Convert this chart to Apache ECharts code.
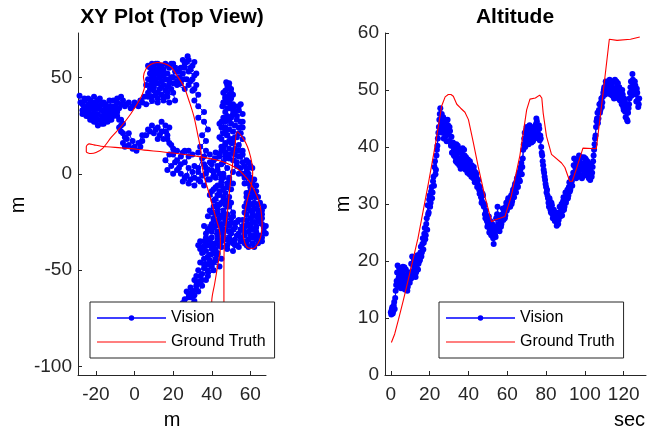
<!DOCTYPE html>
<html><head><meta charset="utf-8">
<script src="https://cdn.jsdelivr.net/npm/echarts@6/dist/echarts.min.js"></script>
<style>html,body{margin:0;padding:0;background:#fff}#c{width:652px;height:432px}</style>
</head><body><div id="c"></div>
<script>
// ---- tick labels ----
const xyTicksX = [-20, 0, 20, 40, 60];
const xyTicksY = [-100, -50, 0, 50];
const altTicksX = [0, 20, 40, 60, 80, 100, 120];
const altTicksY = [0, 10, 20, 30, 40, 50, 60];
const seriesNames = ['Vision', 'Ground Truth'];
const GAP = ['-', '-'];

// ---- XY plot (top view), metres: vision track, first pass ----
const visionXY1 = [
[23,-76],[26,-73],[24,-70],[27,-71],[25,-67],[28,-68],[26,-65],[29,-64],[31,-66],[30,-62],[27,-61],[32,-60],[29,-59],[33,-57],[31,-55],[34,-56],[32,-53],[35,-52],[33,-50],[36,-49],[38,-51],[37,-47],[34,-46],[39,-45],[36,-44],[41,-46],[44,-48],[42,-44],[39,-42],[37,-40],[40,-39],[43,-41],[41,-38],[38,-37],[35,-38],[33,-37],
[36,-35],[39,-34],[42,-36],[45,-35],[48,-37],[51,-36],[54,-38],[52,-34],[49,-33],[46,-31],[43,-32],[40,-30],[37,-31],[39,-28],[42,-27],[45,-28],[48,-26],[51,-29],[54,-31],[56,-27],[53,-25],[50,-23],[47,-24],[44,-23],[41,-24],[38,-22],
[40,-20],[43,-18],[46,-19],[49,-17],[51,-20],[48,-14],[45,-15],[42,-13],[39,-11],[41,-8],[44,-9],[47,-10],[50,-8],[48,-5],[45,-4],[42,-2],[39,-3],[37,0],[40,2],
[36,5],[33,3],[35,8],[37,12],[34,14],[37,17],[35,20],[38,23],[36,27],[33,29],[36,32],[33,35],[31,38],[33,41],[30,43],[32,46],[29,48],[31,51],[28,53],[30,56],[27,58],[27.5,61],[26,57],[29,54],[25,52],[27,49],[24,47],[26,44],[22,46],[23,50],[21,53],[24,55],[20,57],
[18,55],[16,57],[14,56],[12,57],[10,56],[8,55],[11,54],[14,53],[17,52],[19,50],[16,49],[13,50],[10,51],[8,52],[9,48],[12,47],[15,46],[18,47],[19,44],[16,43],[13,44],[10,45],[8,44],[11,41],[14,41],[17,40],[20,42],[21,38],[18,37],[15,38],[12,39],[9,40],[7,42],[5,40],
[4,37],[2,35],[0,37],[-2,34],[-4,36],[-6,38],[-7,40],[-9,37],[-8,34],[-10,33],[-12,35],[-14,33],[-13,30],[-15,28],[-17,30],[-16,33],[-18,35],[-20,34],[-19,31],[-21,29],[-23,31],[-22,34],[-24,36],[-26,35],[-25,32],[-27,33],[-28,37],[-28.5,40.5],[-26,39],[-23,38],[-21,40],[-20,37],[-18,39],[-15,36],[-13,38],[-11,31],[-14,27],[-17,28],[-20,27],[-22,28],[-24,30],[-19,25],[-16,26],[-12,28],[-9,30],[-7,28],
[-7,25],[-7,22],[-5,19],[-6,16],[-5,14],[-3,15],[-1,13],[1,12],[3,14],[4,17],[6,20],[8,22],[10,21],[12,24],[14,27],[16,25],[14,22],[17,20],[15,18],[18,16],[20,13],
[18,10],[16,7],[19,4],[17,2],[20,0],[23,3],[21,6],[24,9],[26,12],[28,9],[26,6],[28,3],[27,-1],[25,-4],[29,-3],[30,1],[31,4],[33,1],[31,-2],[34,-4],[36,-6],[38,-3],[41,1],[43,4],[41,7],[44,9],[46,6],[48,3],[46,0],[49,-2],[51,1],[53,4],[51,7],[54,9],[56,6],[58,3],[56,0],[59,-2],
[57,-5],[60,-7],[58,-10],[61,-12],[63,-9],[62,-15],[59,-14],[57,-17],[60,-19],[63,-18],[65,-15],[67,-17],[66,-21],[63,-22],[60,-23],[58,-21],[56,-24],[59,-26],[62,-25],[65,-25],[67,-28],[68,-31],[66,-33],[63,-30],[60,-29],[57,-30],[55,-33],[58,-35],[61,-33],[64,-36],[62,-38],[59,-38],[57,-36],[60,-32],[63,-27],[65,-23],[61,-20],[59,-16],[64,-12],[62,-6],[60,-2],[58,1],[61,3],[59,6],[57,4],
[55,9],[56,12],[54,15],[56,18],[55,21],[53,19],[51,16],[49,13],[47,15],[45,18],[48,20],[51,22],[54,24],[56,27],[53,28],[50,26],[47,24],[45,27],[48,29],[51,31],[54,33],[55,36],[52,35],[49,34],[47,32],[45.5,35],[48,37],[50,39],[47,40],[46,42],[48,44],[47.5,47.5],[49,45],[50,42],[49,40],[48,38],[50,36],[51,33],[49,28],[47,22],[49,17],[46,13],[44,10],[47,8],[45,5],
[43,2],[45,-2],[43,-6],[46,-8],[44,-11],[41,-14],[43,-16],[46,-14],[48,-17],[46,-21],[43,-20],[41,-23],[44,-26],[47,-22],[50,-25],[52,-28],[49,-30],[46,-29],[43,-30],[40,-33],[37,-33],[34,-35],[36,-38],[39,-37],[42,-39],[45,-38],[48,-39],[51,-40],[53,-37],[50,-35],[47,-34],[44,-37],[41,-41],[39,-47],[41,-50],[38,-53],[35,-55],[32,-58],[30,-61],[28,-64],[26,-68],[24,-72]
];
// second pass, lower and right part
const visionXY2 = [
[27,-70],[29,-68],[31,-63],[28,-62],[33,-61],[35,-58],[32,-56],[37,-55],[34,-53],[38,-50],[40,-48],[36,-47],[42,-45],[45,-44],[43,-42],[38,-43],[35,-41],[34,-39],
[37,-36],[40,-36],[43,-34],[46,-33],[49,-35],[52,-37],[55,-35],[53,-32],[50,-31],[47,-29],[44,-30],[41,-28],[38,-29],[36,-27],[40,-26],[43,-25],[46,-26],[49,-27],[52,-26],[55,-29],[54,-24],[51,-22],[48,-21],[45,-22],[42,-21],[39,-19],
[41,-17],[44,-16],[47,-16],[50,-15],[49,-12],[46,-12],[43,-11],[40,-9],[42,-7],[45,-6],[48,-7],[51,-5],[49,-3],[46,-2],[44,0],[41,-1],[38,2],[40,5],[42,8],[39,10],
[36,9],[33,11],[30,10],[28,12],[25,11],[22,12],[20,10],[22,7],[24,5],[22,2],[24,0],[26,-2],[28,-5],[31,-6],[33,-3],[35,-1],[37,3],[39,6],[42,11],[45,12],[47,10],[49,8],[52,10],[53,6],[55,3],[54,0],[57,-2],
[59,-5],[62,-3],[61,-9],[63,-12],[60,-12],[58,-15],[61,-16],[64,-16],[66,-19],[64,-21],[61,-22],[58,-24],[57,-27],[60,-27],[63,-28],[66,-26],[68,-27],[67,-30],[65,-32],[62,-32],[59,-34],[56,-35],[58,-37],[61,-36],[63,-34],[66,-35],[64,-32],[62,-29],[59,-30],[57,-32],[56,-29],[58,-27],[61,-25],[64,-24],[66,-23],[64,-19],[62,-18],[59,-18],[57,-20],[58,-12],[60,-9],[62,-11],[63,-6],[61,-4],[59,0],[60,4],[58,7],
[56,10],[54,12],[52,13],[50,16],[52,19],[54,21],[56,24],[55,27],[52,25],[49,23],[46,21],[44,19],[45,24],[47,27],[50,29],[53,30],[56,31],[54,35],[51,36],[48,34],[46,37],[47,39],[49,41],[47,43],[48,46],[49,47],[50,44],[51,41],[49,38],[50,35],[52,32],[48,30],[46,29],[44,26],[46,24],[48,20],[50,18],[47,16],[45,14],[47,11],[49,10],[51,11]
];
// third pass, upper and left part
const visionXY3 = [
[31,44],[28,46],[30,49],[32,52],[29,55],[31,58],[28,59],[25,59],[26,55],[23,53],[25,49],[22,48],[20,50],[21,55],[19,57],[17,56],[15,54],[13,55],[11,57],[9,57],[7,56],[9,53],[12,52],[15,51],[18,49],[20,47],[17,45],[14,48],[11,49],[9,50],[7,49],[6,46],[8,46],[11,47],[14,45],[17,42],[15,40],[12,42],[10,43],[7,40],[9,38],[12,37],[6,36],[3,38],[1,36],[-1,35],[-3,37],[-5,35],[-7,36],[-9,39],[-11,38],[-10,35],[-12,33],[-11,30],[-13,28],[-15,31],[-17,33],[-19,34],[-21,32],[-20,30],[-22,30],[-24,33],[-26,33],[-27,31],[-25,30],[-23,28],[-21,27],[-19,28],[-17,26],[-15,29],[-13,32],[-15,34],[-17,36],[-20,36],[-22,36],[-24,34],[-27,36],[-26,38],[-24,39],[-22,37],[-19,38],[-16,37],[-13,35],
[-9,32],[-8,28],[-6,26],[-8,24],[-6,21],[-4,18],[-3,21],[-1,17],[0,14],[2,16],[4,20],[7,23],[9,25],[11,23],[13,20],[12,18],[16,22],[18,24],[17,18],[19,15],[21,12]
];
const truthXY = [
[40,-95],[40,-66],[41.5,-57],[43,-48],[44.5,-38],[44.3,-31],[42.5,-24],[40.5,-17],[38,-8],[36,-1.5],[34.8,6],[34.3,12.3],[32.8,20],[30.8,29.5],[28.5,37],[25.6,45.1],[22,51],[18.8,55.4],[15,57.3],[11.9,57.7],[8.5,56.8],[6,54.5],[4.6,50.3],[5.2,46.5],[5,44],[3,39],[-2,31],[-7.1,24.4],[-12,19],[-16.5,13.2],[-20,11],[-22.6,10.5],[-25,11.5],[-25,14],[-23.5,15.5],[-21,15],[-17.4,14.3],[-5,13.3],[5,12.3],[20,10.8],[34.3,8.8],[42,7.3],[48.1,5.4],[53,2.8],[56.6,-0.5],[59.5,-4],[62,-8.4],[64,-13],[65.5,-19],[66.1,-26],[65.5,-32],[64,-36],[61.5,-38.7],[59,-38.5],[57.2,-36],[56.3,-31],[56.6,-25],[57.5,-18],[58.8,-12],[60.5,-6],[61.2,0],[61,4],[60.1,8.8],[58.5,14],[56.5,18],[53.2,21.8],[52,14],[50.6,3.5],[49.6,-5],[48.1,-20],[47,-30],[46.4,-40],[46.3,-55],[46.3,-66],[46.5,-95]
];

// ---- Altitude, [sec, m] ----
const visionAlt1 = [
[0,11.0],[0.5,11.5],[1,10.8],[1.5,12.2],[2,11.6],[2.5,14.8],[3,16.5],[3.5,19.2],[4,17.0],[4.5,15.5],[5,18.3],[5.5,16.2],[6,17.8],[6.5,15.8],[7,18.9],[7.5,17.2],[8,16.0],[8.5,14.8],[9,16.5],[9.5,18.0],
[10,16.8],[10.5,19.5],[11,20.8],[11.5,18.2],[12,17.5],[12.5,19.8],[13,18.0],[13.5,20.5],[14,18.5],[14.5,21.0],[15,20.2],[15.5,22.5],[16,21.5],[16.5,24.0],[17,23.2],[17.5,25.8],[18,24.5],[18.5,27.5],[19,29.8],[19.5,28.5],
[20,31.5],[20.5,30.2],[21,33.0],[21.5,32.0],[22,34.8],[22.5,36.5],[23,35.2],[23.5,38.5],[24,40.2],[24.5,42.5],[25,44.8],[25.5,46.8],[26,44.0],[26.5,42.5],[27,45.2],[27.5,43.0],[28,41.8],[28.5,44.5],[29,42.2],[29.5,43.8],
[30,41.0],[30.5,42.8],[31,40.2],[31.5,39.0],[32,40.8],[32.5,38.5],[33,39.8],[33.5,37.5],[34,38.8],[34.5,40.2],[35,38.0],[35.5,39.5],[36,36.2],[36.5,38.0],[37,39.8],[37.5,37.2],[38,38.5],[38.5,36.0],[39,37.5],[39.5,35.5],
[40,37.0],[40.5,35.2],[41,36.5],[41.5,34.8],[42,36.2],[42.5,34.5],[43,35.8],[43.5,34.0],[44,35.2],[44.5,33.0],[45,34.2],[45.5,32.5],[46,33.0],[46.5,31.2],[47,30.5],[47.5,31.5],[48,29.5],[48.5,28.2],[49,28.8],[49.5,27.0],
[50,26.5],[50.5,27.8],[51,25.5],[51.5,26.2],[52,24.8],[52.5,25.5],[53,23.0],[53.5,25.0],[54,24.2],[54.5,26.0],[55,29.5],[55.5,26.5],[56,25.2],[56.5,27.5],[57,26.5],[57.5,28.2],[58,27.2],[58.5,29.0],[59,28.0],[59.5,30.2],
[60,29.2],[60.5,31.0],[61,30.0],[61.5,29.5],[62,31.5],[62.5,30.5],[63,32.5],[63.5,31.2],[64,33.5],[64.5,32.0],[65,34.5],[65.5,33.0],[66,35.5],[66.5,34.0],[67,36.5],[67.5,35.2],[68,38.0],[68.5,40.5],[69,42.5],[69.5,41.0],
[70,43.5],[70.5,42.0],[71,40.5],[71.5,43.8],[72,42.2],[72.5,40.8],[73,43.0],[73.5,41.5],[74,43.5],[74.5,42.0],[75,45.0],[75.5,43.5],[76,41.8],[76.5,43.2],[77,42.0],[77.5,40.0],[78,38.5],[78.5,36.8],[79,35.5],[79.5,34.2],
[80,33.0],[80.5,32.5],[81,31.0],[81.5,29.5],[82,30.5],[82.5,28.5],[83,29.8],[83.5,27.5],[84,29.0],[84.5,27.0],[85,28.5],[85.5,26.2],[86,28.0],[86.5,27.2],[87,29.5],[87.5,28.0],[88,30.0],[88.5,28.8],[89,31.2],[89.5,29.5],
[90,32.0],[90.5,30.8],[91,32.5],[91.5,31.5],[92,33.8],[92.5,32.5],[93,34.5],[93.5,33.2],[94,35.5],[94.5,38.0],[95,36.5],[95.5,34.5],[96,37.5],[96.5,35.5],[97,38.5],[97.5,36.0],[98,37.2],[98.5,34.5],[99,36.5],[99.5,38.2],
[100,36.0],[100.5,37.8],[101,35.0],[101.5,36.8],[102,34.5],[102.5,37.0],[103,35.5],[103.5,34.8],[104,36.5],[104.5,38.5],[105,40.5],[105.5,42.0],[106,44.5],[106.5,46.0],[107,45.0],[107.5,47.5],[108,46.5],[108.5,48.5],[109,47.8],[109.5,49.5],
[110,50.5],[110.5,49.2],[111,51.0],[111.5,50.0],[112,51.5],[112.5,49.8],[113,50.8],[113.5,49.5],[114,51.5],[114.5,50.2],[115,48.5],[115.5,51.8],[116,50.0],[116.5,49.0],[117,51.2],[117.5,49.5],[118,48.2],[118.5,50.0],[119,47.5],[119.5,49.2],
[120,46.5],[120.5,48.0],[121,45.2],[121.5,47.5],[122,44.5],[122.5,46.8],[123,48.5],[123.5,50.5],[124,49.0],[124.5,52.8],[125,51.2],[125.5,49.5],[126,50.8],[126.5,48.0],[127,49.5],[127.5,47.0],[128,48.5]
];
const visionAlt2 = [
[0.25,10.6],[0.75,11.9],[1.25,11.2],[1.75,12.8],[2.25,13.5],[2.75,15.8],[3.25,18.0],[3.75,16.2],[4.25,18.8],[4.75,16.8],[5.25,15.2],[5.75,17.5],[6.25,19.0],[6.75,16.5],[7.25,15.0],[7.75,18.5],[8.25,17.5],[8.75,15.5],[9.25,17.8],[9.75,16.2],
[10.25,18.0],[10.75,17.0],[11.25,19.5],[11.75,20.5],[12.25,18.8],[12.75,17.2],[13.25,19.2],[13.75,21.0],[14.25,19.5],[14.75,20.0],[15.25,21.5],[15.75,20.8],[16.25,23.0],[16.75,22.0],[17.25,24.8],[17.75,23.8],[18.25,26.5],[18.75,25.5],[19.25,28.2],[19.75,30.8],
[20.25,29.5],[20.75,32.2],[21.25,31.0],[21.75,34.0],[22.25,33.2],[22.75,37.5],[23.25,36.0],[23.75,39.5],[24.25,41.5],[24.75,43.5],[25.25,45.8],[25.75,43.2],[26.25,45.8],[26.75,44.0],[27.25,41.5],[27.75,44.8],[28.25,43.2],[28.75,41.0],[29.25,44.8],[29.75,42.5],
[30.25,43.5],[30.75,40.8],[31.25,41.8],[31.75,40.5],[32.25,39.2],[32.75,40.5],[33.25,38.2],[33.75,40.5],[34.25,37.2],[34.75,39.0],[35.25,36.8],[35.75,37.5],[36.25,39.2],[36.75,36.8],[37.25,38.5],[37.75,39.5],[38.25,36.8],[38.75,38.2],[39.25,36.5],[39.75,37.8],
[40.25,36.0],[40.75,37.5],[41.25,35.5],[41.75,36.8],[42.25,35.0],[42.75,36.5],[43.25,33.8],[43.75,35.5],[44.25,34.5],[44.75,33.5],[45.25,33.2],[45.75,31.8],[46.25,32.2],[46.75,30.2],[47.25,31.8],[47.75,29.8],[48.25,30.0],[48.75,27.5],[49.25,28.0],[49.75,26.0],
[50.25,27.2],[50.75,25.0],[51.25,27.0],[51.75,24.5],[52.25,26.5],[52.75,24.0],[53.25,26.0],[53.75,24.5],[54.25,27.5],[54.75,28.2],[55.25,27.5],[55.75,25.5],[56.25,28.0],[56.75,26.0],[57.25,27.5],[57.75,29.2],[58.25,28.5],[58.75,27.5],[59.25,29.5],[59.75,28.8],
[60.25,30.5],[60.75,29.5],[61.25,31.0],[61.75,30.8],[62.25,30.0],[62.75,32.0],[63.25,31.8],[63.75,33.0],[64.25,32.5],[64.75,34.0],[65.25,33.2],[65.75,35.0],[66.25,34.2],[66.75,36.0],[67.25,37.2],[67.75,36.5],[68.25,39.5],[68.75,41.5],[69.25,40.0],[69.75,43.0],
[70.25,41.5],[70.75,43.2],[71.25,42.0],[71.75,41.0],[72.25,43.5],[72.75,42.5],[73.25,41.0],[73.75,42.8],[74.25,41.5],[74.75,44.0],[75.25,44.5],[75.75,42.5],[76.25,43.8],[76.75,41.2],[77.25,41.5],[77.75,39.0],[78.25,37.5],[78.75,36.0],[79.25,34.8],[79.75,33.5],
[80.25,32.0],[80.75,31.5],[81.25,30.2],[81.75,31.0],[82.25,29.0],[82.75,30.2],[83.25,28.2],[83.75,28.8],[84.25,27.8],[84.75,28.0],[85.25,27.0],[85.75,27.5],[86.25,26.5],[86.75,28.5],[87.25,27.8],[87.75,29.2],[88.25,28.0],[88.75,30.5],[89.25,29.0],[89.75,31.0],
[90.25,30.2],[90.75,31.8],[91.25,31.0],[91.75,33.0],[92.25,32.2],[92.75,33.5],[93.25,34.0],[93.75,34.8],[94.25,36.8],[94.75,35.2],[95.25,37.8],[95.75,36.0],[96.25,34.8],[96.75,37.0],[97.25,37.8],[97.75,35.0],[98.25,38.2],[98.75,36.2],[99.25,35.0],[99.75,37.0],
[100.25,38.0],[100.75,35.5],[101.25,37.5],[101.75,35.8],[102.25,36.5],[102.75,34.2],[103.25,36.8],[103.75,35.5],[104.25,37.5],[104.75,39.5],[105.25,41.5],[105.75,43.5],[106.25,45.0],[106.75,44.2],[107.25,46.5],[107.75,46.0],[108.25,47.8],[108.75,47.0],[109.25,48.8],[109.75,50.0],
[110.25,49.8],[110.75,51.5],[111.25,49.5],[111.75,51.2],[112.25,50.5],[112.75,51.8],[113.25,49.2],[113.75,51.0],[114.25,49.0],[114.75,51.5],[115.25,50.0],[115.75,49.2],[116.25,51.5],[116.75,50.5],[117.25,48.5],[117.75,50.5],[118.25,49.5],[118.75,48.0],[119.25,50.0],[119.75,47.0],
[120.25,48.5],[120.75,46.2],[121.25,46.5],[121.75,44.8],[122.25,46.0],[122.75,47.5],[123.25,49.5],[123.75,51.5],[124.25,50.2],[124.75,51.8],[125.25,50.0],[125.75,51.5],[126.25,49.2],[126.75,50.2],[127.25,48.2],[127.75,47.5]
];
const truthAlt = [
[0.3,5.7],[2,7.2],[4,9.8],[6.5,13.2],[10,18.2],[14,24],[19.4,33.7],[23,40.5],[26.2,47.2],[28,48.8],[29.6,49.2],[31,49.2],[32.2,48.9],[34,47.5],[36,46.8],[38.2,46.1],[40,44.8],[42.5,40.8],[45,36.6],[48.5,31.3],[51.9,26.9],[53.5,27.2],[56.2,27.5],[58.8,27.8],[62,31.3],[66.5,38.5],[70,46.5],[71.7,48.4],[74.5,48.6],[76.7,49.1],[77.8,48.6],[78.5,46],[80.2,41.9],[82.8,38.7],[88,37.2],[89.7,36.4],[92.2,34],[93.5,34],[95.5,36],[99,39.8],[105.9,39.7],[109.4,49.5],[112.6,58.9],[116.6,58.7],[123.5,58.9],[128.3,59.3]
];

const FONT = '"Liberation Sans", Arial, sans-serif';
const AX = '#262626';
const BLUE = '#0000ff';
const RED = '#ff0000';
const VISION_ICON = 'path://M0,3H100V5H0Z M46,4A4,4 0 1,1 54,4A4,4 0 1,1 46,4Z';
const TRUTH_ICON = 'path://M0,0H100V1.5H0Z';

function axis(idx, min, max, ticks, isX) {
  return {
    type: 'value', gridIndex: idx, min: min, max: max,
    axisLine: { show: true, onZero: false, lineStyle: { color: AX, width: 1 } },
    axisTick: { show: true, inside: true, length: 4, customValues: ticks, lineStyle: { color: AX, width: 1 } },
    axisLabel: { show: true, customValues: ticks, color: AX, fontSize: 19, fontFamily: FONT, margin: isX ? 10 : 6 },
    splitLine: { show: false }
  };
}
function legend(left) {
  return {
    left: left, top: 302, orient: 'vertical', itemWidth: 69, itemHeight: 16, itemGap: 8,
    padding: [8, 9, 8, 7], borderColor: AX, borderWidth: 1, backgroundColor: '#fff',
    selectedMode: false, symbolKeepAspect: true,
    textStyle: { fontSize: 16, color: '#000', fontFamily: FONT },
    data: [
      { name: seriesNames[0], icon: VISION_ICON, itemStyle: { color: BLUE, borderWidth: 0 } },
      { name: seriesNames[1], icon: TRUTH_ICON, itemStyle: { color: RED, borderWidth: 0 } }
    ]
  };
}
function label(text, x, y, rot, font) {
  return { type: 'text', x: x, y: y, rotation: rot || 0, silent: true,
    style: { text: text, font: font, fill: '#000', align: 'center', verticalAlign: 'middle', textAlign: 'center', textVerticalAlign: 'middle' } };
}
const visionStyle = { type: 'line', symbol: 'circle', symbolSize: 6, showSymbol: true, showAllSymbol: true, connectNulls: false,
  lineStyle: { color: BLUE, width: 1 }, itemStyle: { color: BLUE, borderWidth: 0 }, emphasis: { disabled: true }, silent: true, z: 2 };
const truthStyle = { type: 'line', symbol: 'none', lineStyle: { color: RED, width: 1.1 }, itemStyle: { color: RED }, emphasis: { disabled: true }, silent: true, z: 3 };

const visionXY = visionXY1.concat(visionXY2, [GAP], visionXY3);
const visionAlt = visionAlt1.concat([GAP], visionAlt2);

const chart = echarts.init(document.getElementById('c'), null, { renderer: 'canvas' });
chart.setOption({
  animation: false,
  backgroundColor: '#fff',
  grid: [
    { left: 78, top: 33, width: 188, height: 342 },
    { left: 385, top: 33, width: 261, height: 342 }
  ],
  xAxis: [axis(0, -29.3, 68.1, xyTicksX, true), axis(1, -3, 131.5, altTicksX, true)],
  yAxis: [axis(0, -104.3, 73, xyTicksY, false), axis(1, 0, 60, altTicksY, false)],
  legend: [legend(90), legend(439)],
  series: [
    Object.assign({}, visionStyle, { name: seriesNames[0], xAxisIndex: 0, yAxisIndex: 0, data: visionXY }),
    Object.assign({}, truthStyle, { name: seriesNames[1], xAxisIndex: 0, yAxisIndex: 0, data: truthXY, smooth: 0.3 }),
    Object.assign({}, visionStyle, { name: seriesNames[0], xAxisIndex: 1, yAxisIndex: 1, data: visionAlt }),
    Object.assign({}, truthStyle, { name: seriesNames[1], xAxisIndex: 1, yAxisIndex: 1, data: truthAlt })
  ],
  graphic: [
    label('XY Plot (Top View)', 172, 17, 0, 'bold 21px ' + FONT),
    label('Altitude', 515, 17, 0, 'bold 21px ' + FONT),
    label('m', 172, 420, 0, '20px ' + FONT),
    label('sec', 629.5, 420, 0, '20px ' + FONT),
    label('m', 18, 205, Math.PI / 2, '20px ' + FONT),
    label('m', 343, 204, Math.PI / 2, '20px ' + FONT)
  ]
});
</script>
</body></html>
